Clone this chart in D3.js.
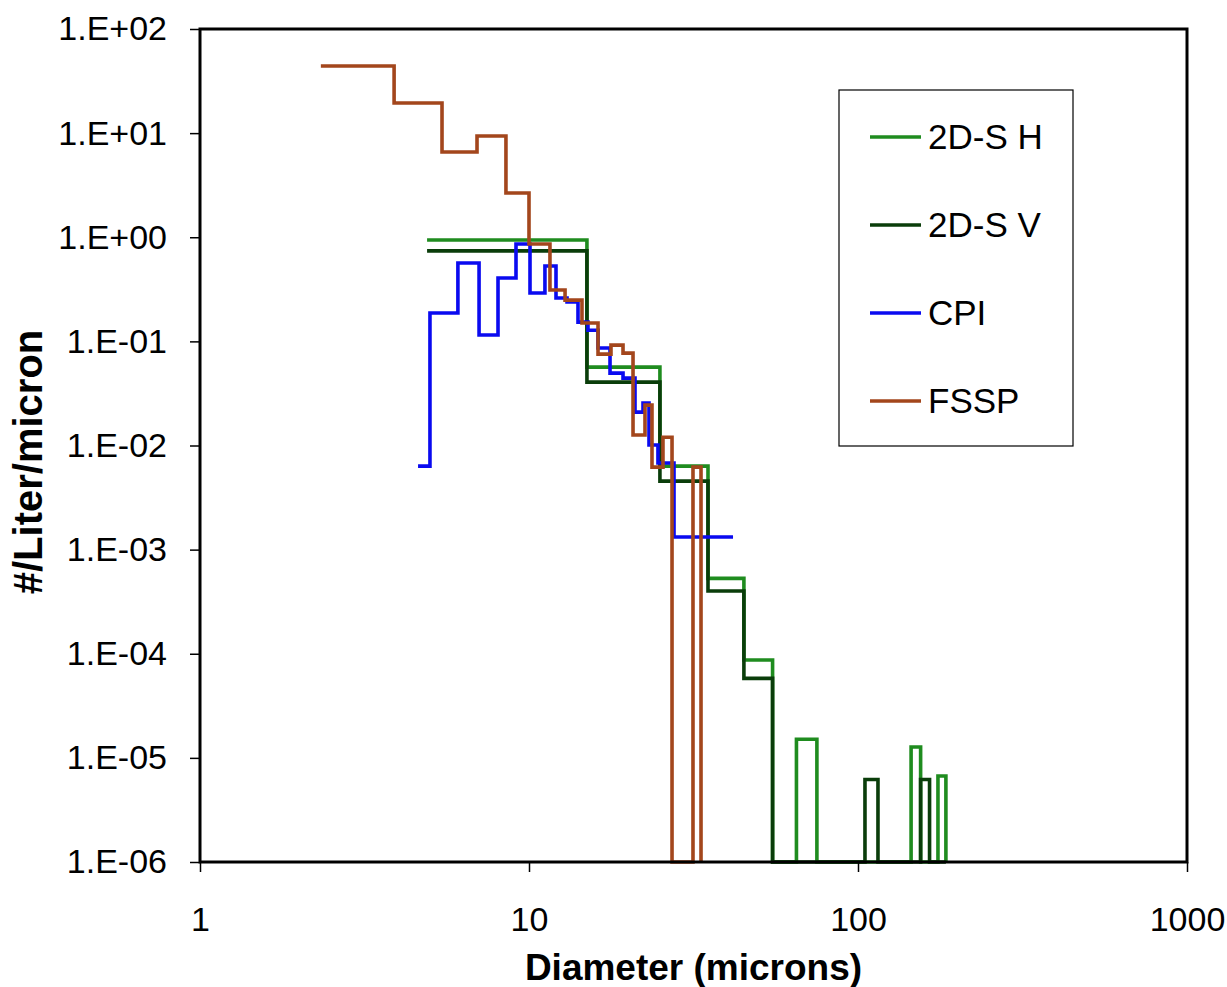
<!DOCTYPE html>
<html>
<head>
<meta charset="utf-8">
<script src="https://cdn.jsdelivr.net/npm/d3@7"></script>
<style>
  body { margin: 0; background: #fff; }
  svg { font-family: "Liberation Sans", Arial, sans-serif; }
</style>
</head>
<body>
<div id="chart"></div>
<script>
// size bins (microns) and concentrations (#/L/micron)
var sdEdges = [4.9, 15, 25, 35, 45, 55, 65, 75, 85, 95, 105, 115, 125, 135, 145, 155, 165, 175, 185];
var sdhValues = [0.94, 0.0566, 0.00634, 5.3e-4, 8.7e-5, 0, 1.51e-5, 0, 0, 0, 0, 0, 0, 0, 1.27e-5, 0, 0, 6.7e-6];
var sdvValues = [0.74, 0.0406, 0.00455, 4.0e-4, 5.8e-5, 0, 0, 0, 0, 0, 6.2e-6, 0, 0, 0, 0, 6.2e-6, 0, 0];

var cpiEdges = [4.60, 5.00, 6.08, 7.05, 8.05, 9.13, 10.07, 11.18, 12.08, 13.05, 14.09, 15.11, 16.21, 17.63, 19.31, 21.00, 22.21, 23.16, 24.66, 27.59, 41.70];
var cpiValues = [0.00634, 0.187, 0.565, 0.115, 0.406, 0.861, 0.291, 0.529, 0.261, 0.239, 0.153, 0.128, 0.0863, 0.0496, 0.0444, 0.0209, 0.0255, 0.0101, 0.00678, 0.00132];

var fsspEdges = [2.33, 3.89, 5.44, 6.95, 8.51, 10.0, 11.58, 12.87, 14.49, 16.21, 17.75, 19.31, 20.71, 22.52, 23.65, 25.54, 27.21, 31.51, 33.33];
var fsspValues = [44.1, 19.5, 6.58, 9.38, 2.66, 0.86, 0.311, 0.249, 0.150, 0.0755, 0.0921, 0.0772, 0.0126, 0.0244, 0.0062, 0.0120, 0, 0.0062];

var seriesNames = ["2D-S H", "2D-S V", "CPI", "FSSP"];
var seriesColors = ["#1f8c1f", "#0a3d0a", "#0a0af0", "#a3461c"];

var xTicks = [1, 10, 100, 1000];
var yTicks = [1e2, 1e1, 1e0, 1e-1, 1e-2, 1e-3, 1e-4, 1e-5, 1e-6];

var W = 1227, H = 987,
    plotLeft = 200, plotRight = 1187, plotTop = 29, plotBottom = 862;

var x = d3.scaleLog().domain([1, 1000]).range([plotLeft, plotRight]);
var y = d3.scaleLog().domain([1e-6, 100]).range([plotBottom, plotTop]);

var svg = d3.select("#chart").append("svg")
    .attr("width", W)
    .attr("height", H);

function steps(edges, vals, drop) {
    var pts = [];
    vals.forEach(function(v, i) {
        pts.push([edges[i], v]);
        pts.push([edges[i + 1], v]);
    });
    if (drop) pts.push([edges[edges.length - 1], 0]);
    return pts;
}

var series = [
    steps(sdEdges, sdhValues, true),
    steps(sdEdges, sdvValues, true),
    steps(cpiEdges, cpiValues, false),
    steps(fsspEdges, fsspValues, true)
];

var line = d3.line()
    .x(function(d) { return x(d[0]); })
    .y(function(d) { return d[1] > 0 ? y(d[1]) : y(1e-6); });

svg.append("g").selectAll("path")
    .data(series)
    .enter()
    .append("path")
    .attr("d", line)
    .attr("fill", "none")
    .attr("stroke", function(d, i) { return seriesColors[i]; })
    .attr("stroke-width", 3.6)
    .attr("stroke-linejoin", "miter");

/*
 * axes
 */
function sci(d) {
    var e = Math.round(Math.log10(d));
    return "1.E" + (e < 0 ? "-" : "+") + String(Math.abs(e)).padStart(2, "0");
}

var yAxis = svg.append("g")
    .attr("transform", "translate(" + plotLeft + ",0)")
    .call(d3.axisLeft(y).tickValues(yTicks).tickFormat(sci).tickSize(10).tickPadding(23));

var xAxis = svg.append("g")
    .attr("transform", "translate(0," + plotBottom + ")")
    .call(d3.axisBottom(x).tickValues(xTicks).tickFormat(d3.format("d")).tickSize(10).tickPadding(35));

[yAxis, xAxis].forEach(function(a) {
    a.select(".domain").remove();
    a.selectAll(".tick line").attr("stroke", "#000").attr("stroke-width", 1.5);
    a.selectAll(".tick text")
        .attr("fill", "#000")
        .style("font-size", "34px")
        .style("font-family", "'Liberation Sans', Arial, sans-serif");
});

svg.append("rect")
    .attr("x", plotLeft)
    .attr("y", plotTop)
    .attr("width", plotRight - plotLeft)
    .attr("height", plotBottom - plotTop)
    .attr("fill", "none")
    .attr("stroke", "#000")
    .attr("stroke-width", 3);

svg.append("text")
    .attr("x", (plotLeft + plotRight) / 2)
    .attr("y", 980)
    .attr("text-anchor", "middle")
    .style("font-size", "37px")
    .style("font-weight", "bold")
    .text("Diameter (microns)");

svg.append("text")
    .attr("transform", "translate(42,462) rotate(-90)")
    .attr("text-anchor", "middle")
    .style("font-size", "40px")
    .style("font-weight", "bold")
    .text("#/Liter/micron");

/*
 * legend
 */
var legend = svg.append("g");

legend.append("rect")
    .attr("x", 839)
    .attr("y", 90)
    .attr("width", 234)
    .attr("height", 356)
    .attr("fill", "#fff")
    .attr("stroke", "#000")
    .attr("stroke-width", 1.2);

var items = legend.selectAll("g.item")
    .data(seriesNames)
    .enter()
    .append("g")
    .attr("class", "item")
    .attr("transform", function(d, i) { return "translate(0," + (137 + i * 88) + ")"; });

items.append("line")
    .attr("x1", 870)
    .attr("x2", 921)
    .attr("stroke", function(d, i) { return seriesColors[i]; })
    .attr("stroke-width", 3.5);

items.append("text")
    .attr("x", 928)
    .attr("y", 12)
    .style("font-size", "35px")
    .text(function(d) { return d; });
</script>
</body>
</html>
